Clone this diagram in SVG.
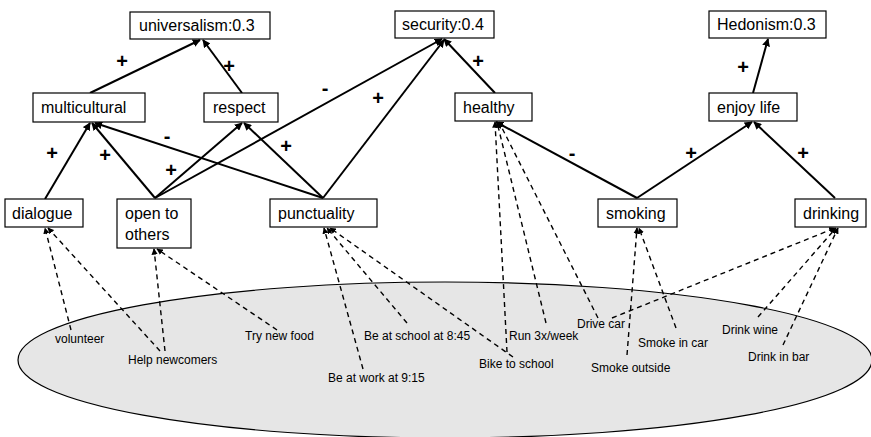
<svg xmlns="http://www.w3.org/2000/svg" width="871" height="437" viewBox="0 0 871 437">
  <style>
    .box { fill: #ffffff; stroke: #000000; stroke-width: 1.2; }
    .lbl { font-family: "Liberation Sans", Arial, sans-serif; font-size: 16px; fill: #000000; }
    .act { font-family: "Liberation Sans", Arial, sans-serif; font-size: 12px; fill: #000000; }
    .sign { font-family: "Liberation Sans", Arial, sans-serif; font-size: 20px; font-weight: bold; fill: #000000; text-anchor: middle; }
    .solid { stroke: #000000; stroke-width: 2; fill: none; marker-end: url(#head); }
    .dash { stroke: #000000; stroke-width: 1.4; fill: none; stroke-dasharray: 5 4; marker-end: url(#headSmall); }
  </style>
  <defs>
    <marker id="head" viewBox="0 0 10 10" refX="9" refY="5" markerWidth="4" markerHeight="4" markerUnits="strokeWidth" orient="auto">
      <path d="M0,0 L10,5 L0,10 z" fill="#000000"/>
    </marker>
    <marker id="headSmall" viewBox="0 0 10 10" refX="9" refY="5" markerWidth="4.5" markerHeight="4.5" markerUnits="strokeWidth" orient="auto">
      <path d="M0,0 L10,5 L0,10 z" fill="#000000"/>
    </marker>
  </defs>

  <!-- activity pool -->
  <ellipse id="activities" cx="445" cy="360" rx="427" ry="78" fill="#e6e6e6" stroke="#000000" stroke-width="1.2"/>

  <!-- connectors -->
  <g id="connectors">
    <!-- influences between concepts and values -->
    <line class="solid" x1="90" y1="93" x2="200" y2="40"/>
    <line class="solid" x1="242" y1="93" x2="203" y2="40"/>
    <line class="solid" x1="495" y1="93" x2="444" y2="39"/>
    <line class="solid" x1="155" y1="198" x2="442" y2="39"/>
    <line class="solid" x1="323" y1="198" x2="444" y2="40"/>
    <line class="solid" x1="45" y1="199" x2="90" y2="123"/>
    <line class="solid" x1="155" y1="198" x2="92" y2="123"/>
    <line class="solid" x1="323" y1="198" x2="95" y2="123"/>
    <line class="solid" x1="155" y1="198" x2="242" y2="123"/>
    <line class="solid" x1="323" y1="198" x2="244" y2="123"/>
    <line class="solid" x1="637" y1="198" x2="496" y2="122"/>
    <line class="solid" x1="637" y1="198" x2="752" y2="122"/>
    <line class="solid" x1="835" y1="198" x2="754" y2="122"/>
    <line class="solid" x1="753" y1="93" x2="768" y2="39"/>

    <!-- activities to concepts -->
    <line class="dash" x1="71" y1="330" x2="45" y2="228"/>
    <line class="dash" x1="160" y1="351" x2="48" y2="228"/>
    <line class="dash" x1="165" y1="351" x2="154" y2="249"/>
    <line class="dash" x1="277" y1="330" x2="157" y2="249"/>
    <line class="dash" x1="363" y1="369" x2="324" y2="228"/>
    <line class="dash" x1="407" y1="323" x2="327" y2="228"/>
    <line class="dash" x1="513" y1="357" x2="330" y2="228"/>
    <line class="dash" x1="507" y1="352" x2="495" y2="122"/>
    <line class="dash" x1="546" y1="323" x2="497" y2="122"/>
    <line class="dash" x1="598" y1="318" x2="499" y2="122"/>
    <line class="dash" x1="627" y1="355" x2="637" y2="228"/>
    <line class="dash" x1="676" y1="328" x2="639" y2="228"/>
    <line class="dash" x1="612" y1="318" x2="835" y2="228"/>
    <line class="dash" x1="758" y1="317" x2="836" y2="228"/>
    <line class="dash" x1="783" y1="345" x2="838" y2="228"/>
  </g>

  <!-- influence signs -->
  <g id="signs">
    <text class="sign" x="122" y="68">+</text>
    <text class="sign" x="229" y="73">+</text>
    <text class="sign" x="478" y="68">+</text>
    <text class="sign" x="325" y="95">-</text>
    <text class="sign" x="378" y="105">+</text>
    <text class="sign" x="52" y="160">+</text>
    <text class="sign" x="105" y="162">+</text>
    <text class="sign" x="167" y="143">-</text>
    <text class="sign" x="171" y="177">+</text>
    <text class="sign" x="286" y="153">+</text>
    <text class="sign" x="572" y="160">-</text>
    <text class="sign" x="691" y="160">+</text>
    <text class="sign" x="803" y="160">+</text>
    <text class="sign" x="743" y="74">+</text>
  </g>

  <!-- values -->
  <g id="universalism">
    <rect class="box" x="130" y="12" width="140" height="27"/>
    <text class="lbl" x="139" y="31">universalism:0.3</text>
  </g>
  <g id="security">
    <rect class="box" x="395" y="11" width="99" height="27"/>
    <text class="lbl" x="402" y="30">security:0.4</text>
  </g>
  <g id="hedonism">
    <rect class="box" x="709" y="11" width="117" height="27"/>
    <text class="lbl" x="717" y="30">Hedonism:0.3</text>
  </g>

  <!-- concepts -->
  <g id="multicultural">
    <rect class="box" x="33" y="93" width="112" height="29"/>
    <text class="lbl" x="41" y="113">multicultural</text>
  </g>
  <g id="respect">
    <rect class="box" x="204" y="93" width="74" height="29"/>
    <text class="lbl" x="213" y="113">respect</text>
  </g>
  <g id="healthy">
    <rect class="box" x="455" y="93" width="77" height="28"/>
    <text class="lbl" x="463" y="113">healthy</text>
  </g>
  <g id="enjoy-life">
    <rect class="box" x="709" y="93" width="88" height="28"/>
    <text class="lbl" x="717" y="113">enjoy life</text>
  </g>
  <g id="dialogue">
    <rect class="box" x="5" y="199" width="78" height="28"/>
    <text class="lbl" x="12" y="219">dialogue</text>
  </g>
  <g id="open-to-others">
    <rect class="box" x="117" y="199" width="74" height="49"/>
    <text class="lbl" x="125" y="219">open to</text>
    <text class="lbl" x="125" y="240">others</text>
  </g>
  <g id="punctuality">
    <rect class="box" x="270" y="199" width="107" height="28"/>
    <text class="lbl" x="278" y="219">punctuality</text>
  </g>
  <g id="smoking">
    <rect class="box" x="598" y="199" width="79" height="28"/>
    <text class="lbl" x="606" y="219">smoking</text>
  </g>
  <g id="drinking">
    <rect class="box" x="795" y="199" width="71" height="28"/>
    <text class="lbl" x="803" y="219">drinking</text>
  </g>

  <!-- activities -->
  <g id="activity-labels">
    <text class="act" x="55" y="343">volunteer</text>
    <text class="act" x="128" y="364">Help newcomers</text>
    <text class="act" x="245" y="340">Try new food</text>
    <text class="act" x="328" y="382">Be at work at 9:15</text>
    <text class="act" x="364" y="340">Be at school at 8:45</text>
    <text class="act" x="479" y="368">Bike to school</text>
    <text class="act" x="509" y="340">Run 3x/week</text>
    <text class="act" x="577" y="328">Drive car</text>
    <text class="act" x="638" y="347">Smoke in car</text>
    <text class="act" x="591" y="372">Smoke outside</text>
    <text class="act" x="722" y="334">Drink wine</text>
    <text class="act" x="748" y="361">Drink in bar</text>
  </g>
</svg>
